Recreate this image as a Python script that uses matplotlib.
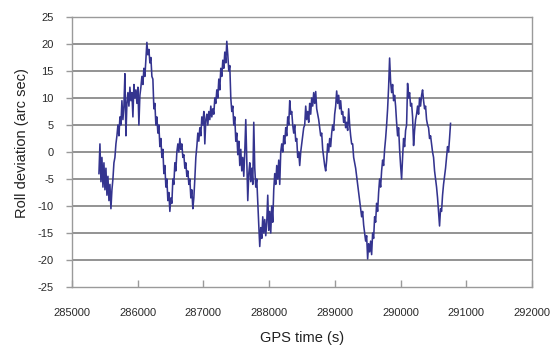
import numpy as np
import matplotlib
matplotlib.use("Agg")
import matplotlib.pyplot as plt

plt.rcParams['font.family'] = ['Liberation Sans', 'DejaVu Sans']

# Roll deviation record, sampled every 15.2 s from GPS time 285410 s
t_start = 285410.0
t_step = 15.2
roll_arcsec = [
    -4, 1.5, -5.5, -1, -6.5, -2, -7, -3, -8, -4.5,
    -9, -6, -10.5, -7, -5, -2, -1, 1.5, 3, 5,
    3, 6.5, 5, 9.5, 6, 8.5, 14.5, 3, 9, 11,
    8.5, 12, 9.5, 11, 6.5, 12.5, 10, 11.5, 9, 12,
    5, 10.5, 12, 14, 12.5, 15.5, 14, 17, 20.3, 18,
    19, 16.5, 17.5, 14, 13.5, 8, 9, 5, 6.5, 3.5,
    5, 1, 2.5, -1, 0.5, -4, -2.5, -6.5, -5, -9,
    -7.5, -11, -8.5, -9.5, -5, -6, -2, -3.5, 0, 1.5,
    0, 2.5, 0.5, 1.5, -1, -0.5, -3, -2, -4.5, -3.5,
    -6, -5, -8.5, -7, -10.5, -8.5, -5, -1, 1, 3.5,
    2, 4.5, 3, 6.5, 5, 7.5, 1.5, 6, 7, 5,
    7.5, 6, 8.5, 6.5, 8, 7, 10, 9, 11.5, 10,
    13.5, 11.5, 15.5, 14, 17, 15.5, 18.5, 16.5, 20.5, 18,
    15, 16, 10, 7.5, 8.5, 5, 6.5, 2, 3.5, -0.5,
    2, -2.5, 0.5, -3.5, -1, -4.5, 0, 6, -1.5, -9,
    -4, -2, -5.5, -3, -6, 5.5, -3, -6.5, -5, -9.5,
    -13.5, -17.5, -14, -16, -12, -15, -12.5, -15.5, -13, -8,
    -14.5, -11, -15, -10, -13, -7, -4, -6, -2.5, -5,
    -1.5, -6, 0, 1.5, 0, 3, 1.5, 4.5, 3, 6.5,
    5, 9.5, 7, 7.5, 5, 3.5, 5, 2, 2.5, -1,
    0, -2.5, 0, 1.5, 3, 4.5, 5, 8.5, 6, 7.5,
    5.5, 9, 7, 10, 8.5, 11, 9, 11.2, 8, 7,
    6, 4.5, 3, 3.5, 0.5, -1, -2.5, -3.5, -1.5, 1.5,
    0, 2.5, 1, 3.5, 5, 4, 7, 8.5, 11.3, 9,
    10.5, 8, 9.5, 7, 7.5, 5.5, 6.5, 4.5, 5.5, 4,
    8, 5, 3, 1.5, 1.5, -1, -2, -3, -4.5, -6,
    -7.5, -9, -10.5, -12, -11, -13.5, -15, -16.5, -15.5, -19.8,
    -17, -18.5, -16.5, -19, -15, -16, -12, -13, -9.5, -11,
    -7.5, -5, -6.5, -3.5, -1.5, -2.5, 0.5, 2.5, 5, 8,
    12, 17.4, 13, 11, 12.5, 9.5, 10.5, 8.5, 5.5, 3,
    4.5, 0.5, -2.5, -5, -1, 2.5, 1, 4, 5, 12.7,
    10, 11, 8.5, 9, 6.5, 1.2, 4, 6, 7, 8.5,
    7, 10, 8.5, 10.5, 11.5, 9.5, 8, 8.5, 6, 5,
    4.5, 2.5, 3, 1.5, 0, -1, -3.5, -5, -6.5, -8.5,
    -11, -13.7, -10.5, -11, -8, -6, -4.5, -3, -1, 1,
    0, 2.5, 5.3,
]
gps_time = t_start + t_step * np.arange(len(roll_arcsec))

x_ticks = [285000, 286000, 287000, 288000, 289000, 290000, 291000, 292000]
y_ticks = [-25, -20, -15, -10, -5, 0, 5, 10, 15, 20, 25]

fig = plt.figure(figsize=(5.51, 3.45), dpi=100)
ax = fig.add_axes([72 / 551, 1 - 287 / 345, 460 / 551, 270 / 345])

ax.set_xlim(285000, 292000)
ax.set_ylim(-25, 25)
ax.set_xticks(x_ticks)
ax.set_yticks(y_ticks)
ax.set_xticklabels([str(v) for v in x_ticks])
ax.set_yticklabels([str(v) for v in y_ticks])

# horizontal gridlines only
for v in y_ticks[1:-1]:
    ax.axhline(v, color='#8a8a8a', lw=1.3, zorder=1)

ax.plot(gps_time, roll_arcsec, color='#34348f', lw=1.15, zorder=3)

for side in ['left', 'bottom', 'right', 'top']:
    ax.spines[side].set_color('#9a9a9a')
    ax.spines[side].set_linewidth(1.0)

ax.tick_params(axis='x', direction='in', length=5, width=1, color='#9a9a9a',
               pad=15, labelsize=8, labelcolor='#2a2a2a')
ax.tick_params(axis='y', direction='out', length=4, width=1, color='#9a9a9a',
               pad=9, labelsize=8, labelcolor='#2a2a2a')

ax.set_xlabel('GPS time (s)', fontsize=10.5, color='#222222', va='center')
ax.xaxis.set_label_coords(0.5, (287 - 338) / 270)
ax.set_ylabel('Roll deviation (arc sec)', fontsize=10.5, color='#222222', va='center')
ax.yaxis.set_label_coords((22 - 72) / 460, (287 - 143) / 270)

fig.savefig('out.png', dpi=100, facecolor='white')
